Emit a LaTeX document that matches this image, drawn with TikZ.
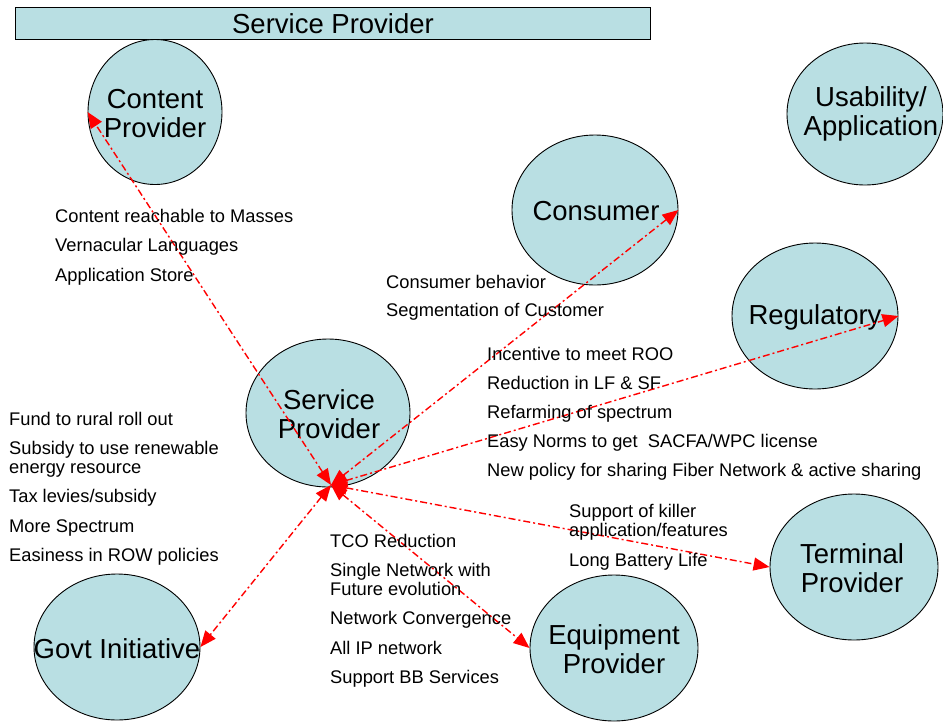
\documentclass[tikz,border=0pt]{standalone}
\usepackage{fontspec}
\setmainfont{Liberation Sans}
\usetikzlibrary{shapes.geometric,arrows.meta}
\definecolor{bubfill}{RGB}{185,223,227}
\tikzset{
  bub/.style={ellipse,draw=black,line width=0.9pt,fill=bubfill,inner sep=0pt},
  bubtext/.style={align=center,font=\fontsize{27.5}{29}\selectfont,inner sep=0pt},
  item/.style={anchor=base west,font=\fontsize{18.3}{20}\selectfont,inner sep=0pt},
  link/.style={draw=red,line width=1.4pt,dash pattern=on 7pt off 3pt on 2pt off 3pt,
    {Triangle[length=16pt,width=13pt]}-{Triangle[length=16pt,width=13pt]}}
}
\begin{document}
\begin{tikzpicture}[x=1pt,y=-1pt]
\useasboundingbox (0,0) rectangle (943,721);
% title
\node[draw=black,line width=0.9pt,fill=bubfill,minimum width=635pt,minimum height=32pt,inner sep=0pt,anchor=north west] (title) at (15,7) {};
\node[font=\fontsize{27.5}{29}\selectfont,inner sep=0pt] (titletext) at (333,24) {Service Provider};
% bubbles
\node[bub,minimum width=134pt,minimum height=145pt] (cp) at (155,112) {};
\node[bubtext] (cpt) at (155,114) {Content\\Provider};
\node[bub,minimum width=156pt,minimum height=142pt] (ua) at (865,114) {};
\node[bubtext] (uat) at (871,114) {Usability/\\Application};
\node[bub,minimum width=166pt,minimum height=150pt] (cons) at (595,210) {};
\node[bubtext] (const) at (596,211) {Consumer};
\node[bub,minimum width=166pt,minimum height=146pt] (reg) at (815,316) {};
\node[bubtext] (regt) at (815,317) {Regulatory};
\node[bub,minimum width=164pt,minimum height=148pt] (sp) at (328,413) {};
\node[bubtext] (spt) at (329,414) {Service\\Provider};
\node[bub,minimum width=166pt,minimum height=146pt] (gov) at (117,647) {};
\node[bubtext] (govt) at (117,649) {Govt Initiative};
\node[bub,minimum width=168pt,minimum height=146pt] (eq) at (614,648) {};
\node[bubtext] (eqt) at (614,649) {Equipment\\Provider};
\node[bub,minimum width=168pt,minimum height=146pt] (term) at (854,567) {};
\node[bubtext] (termt) at (852,568) {Terminal\\Provider};
% hub
\coordinate (hub) at (331,485);
% links
\draw[link] (hub) -- (cp.west);
\draw[link] (hub) -- (cons.east);
\draw[link] (hub) -- (reg.east);
\draw[link] (hub) -- (term.west);
\draw[link] (hub) -- (eq.west);
\draw[link] (hub) -- (gov.east);
% content list
\node[item] (c1) at (55,222) {Content reachable to Masses};
\node[item] (c2) at (55,251) {Vernacular Languages};
\node[item] (c3) at (55,281) {Application Store};
% consumer list
\node[item] (k1) at (386,288) {Consumer behavior};
\node[item] (k2) at (386,316) {Segmentation of Customer};
% regulatory list
\node[item] (r1) at (487,360) {Incentive to meet ROO};
\node[item] (r2) at (487,389) {Reduction in LF \& SF};
\node[item] (r3) at (487,418) {Refarming of spectrum};
\node[item] (r4) at (487,447) {Easy Norms to get\ \ SACFA/WPC license};
\node[item] (r5) at (487,476) {New policy for sharing Fiber Network \& active sharing};
% govt list
\node[item] (g1) at (9,425) {Fund to rural roll out};
\node[item] (g2) at (9,454) {Subsidy to use renewable};
\node[item] (g2b) at (9,473) {energy resource};
\node[item] (g3) at (9,502) {Tax levies/subsidy};
\node[item] (g4) at (9,532) {More Spectrum};
\node[item] (g5) at (9,561) {Easiness in ROW policies};
% equipment list
\node[item] (e1) at (330,547) {TCO Reduction};
\node[item] (e2) at (330,576) {Single Network with};
\node[item] (e2b) at (330,595) {Future evolution};
\node[item] (e3) at (330,624) {Network Convergence};
\node[item] (e4) at (330,654) {All IP network};
\node[item] (e5) at (330,683) {Support BB Services};
% terminal list
\node[item] (t1) at (569,517) {Support of killer};
\node[item] (t1b) at (569,536) {application/features};
\node[item] (t2) at (569,566) {Long Battery Life};
\end{tikzpicture}
\end{document}
